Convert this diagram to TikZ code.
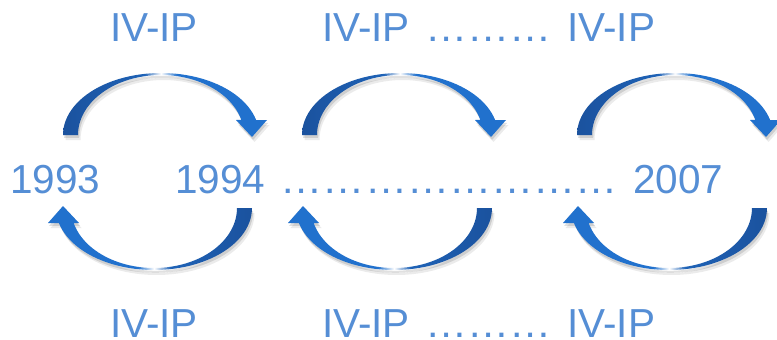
\documentclass[tikz,border=0pt]{standalone}
\usepackage{fontspec}
\setmainfont{Liberation Sans}
\usepackage{graphicx}
\definecolor{txt}{HTML}{558ED5}
\definecolor{adark}{RGB}{27,82,158}
\definecolor{amid}{RGB}{30,98,182}
\definecolor{alight}{RGB}{33,113,205}
\pgfdeclarehorizontalshading{arcL}{100bp}{color(0bp)=(adark); color(25bp)=(adark); color(45bp)=(amid); color(49bp)=(white); color(53bp)=(alight); color(75bp)=(alight); color(100bp)=(alight)}
\pgfdeclarehorizontalshading{arcR}{100bp}{color(0bp)=(alight); color(25bp)=(alight); color(47bp)=(alight); color(51bp)=(white); color(55bp)=(amid); color(75bp)=(adark); color(100bp)=(adark)}
% x0, y0, orientation (1 = opens downward, arrow on right; (-1) = rotated)
\newcommand\arcpath[3]{%
  plot[domain=180:14,samples=50] ({#1+#3*98*cos(\x)},{#2-#3*62*sin(\x)})
  -- ({#1+#3*106},{#2-#3*15}) -- ({#1+#3*91},{#2+#3*2}) -- ({#1+#3*75},{#2-#3*15})
  -- plot[domain=14.5:180,samples=50] ({#1+#3*83*cos(\x)},{#2-#3*60*sin(\x)}) -- cycle}
\newcommand\bigarrow[4]{%
  \fill[black,opacity=.08,shift={(2.5,5)}] \arcpath{#1}{#2}{#3};
  \fill[black,opacity=.12,shift={(1.2,2.8)}] \arcpath{#1}{#2}{#3};
  \path[shading=#4] \arcpath{#1}{#2}{#3};}
\newcommand\myel{…}
\newcommand\mydots[1]{\scalebox{1.04}[1]{#1}}
\newcommand\gap{\hspace*{15.5pt}}
\tikzset{lbl/.style={text=txt, font=\fontsize{40.5}{48}\selectfont, inner sep=0pt, anchor=base west}}
\begin{document}
\begin{tikzpicture}[x=1pt,y=-1pt]
\fill[white] (0,0) rectangle (777,340);
\useasboundingbox (0,0) rectangle (777,340);
% top arrows
\bigarrow{161}{135}{1}{arcL}
\bigarrow{400}{135}{1}{arcL}
\bigarrow{675}{135}{1}{arcL}
% bottom arrows
\bigarrow{154}{208}{(-1)}{arcR}
\bigarrow{394}{208}{(-1)}{arcR}
\bigarrow{669}{208}{(-1)}{arcR}
% labels
\node[lbl] (t1) at (110,41) {IV-IP};
\node[lbl] (t2) at (322,41) {IV-IP\gap\mydots{\myel\myel\myel}\gap IV-IP};
\node[lbl] (m1) at (10,193) {1993};
\node[lbl] (m2) at (175,193) {1994\gap\mydots{\myel\myel\myel\myel\myel\myel\myel\myel}\gap 2007};
\node[lbl] (b1) at (110,337) {IV-IP};
\node[lbl] (b2) at (322,337) {IV-IP\gap\mydots{\myel\myel\myel}\gap IV-IP};
\end{tikzpicture}
\end{document}
